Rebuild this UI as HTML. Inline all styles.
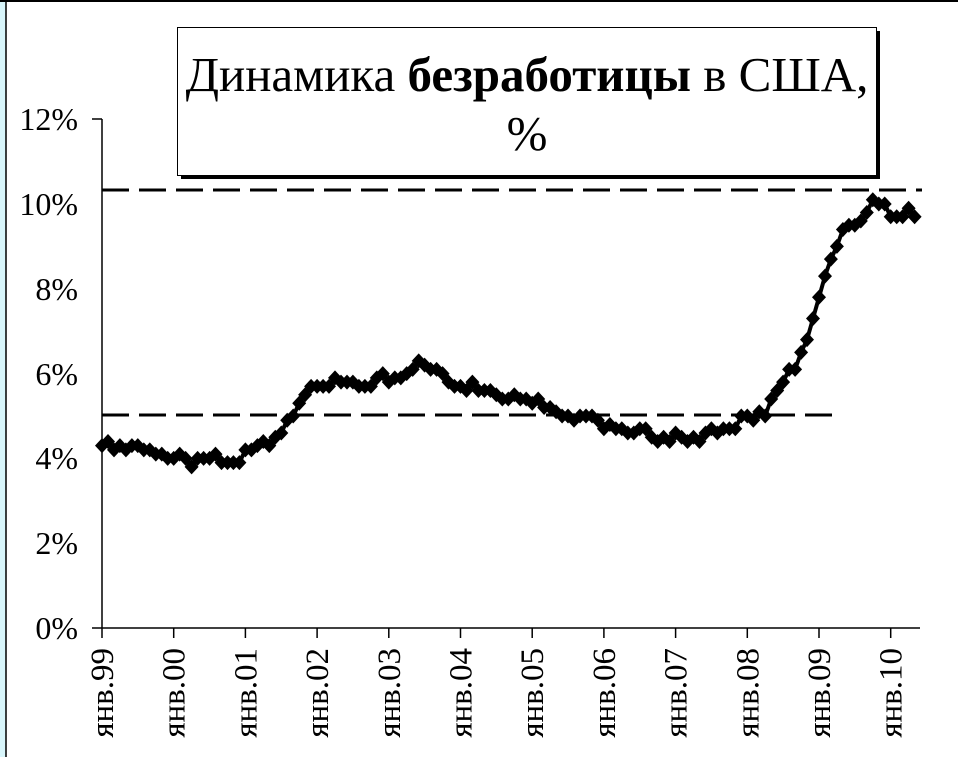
<!DOCTYPE html>
<html><head><meta charset="utf-8"><style>
body{margin:0;background:#fff;}
svg{display:block;font-family:"Liberation Serif","DejaVu Serif",serif;}
</style></head><body>
<svg id="s" width="958" height="757" xmlns="http://www.w3.org/2000/svg">
<rect x="0" y="0" width="958" height="757" fill="#fff"/>
<rect x="0" y="0" width="6" height="757" fill="#d8f6fb"/>
<line x1="6" y1="0" x2="6" y2="757" stroke="#000" stroke-width="1.5"/>
<rect x="0" y="0" width="958" height="2" fill="#000"/>
<g font-size="32" text-anchor="end">
<text x="78" y="130">12%</text>
<text x="78" y="215">10%</text>
<text x="78" y="300">8%</text>
<text x="78" y="385">6%</text>
<text x="78" y="469">4%</text>
<text x="78" y="554">2%</text>
<text x="78" y="639">0%</text>
</g>
<line x1="102" y1="119" x2="102" y2="628" stroke="#000" stroke-width="1.5"/>
<line x1="92" y1="119" x2="102" y2="119" stroke="#000" stroke-width="1.5"/>
<line x1="92" y1="628" x2="920" y2="628" stroke="#000" stroke-width="1.5"/>
<g id="xt"></g>
<line x1="102" y1="190" x2="922" y2="190" stroke="#000" stroke-width="3" stroke-dasharray="27,10"/>
<line x1="102" y1="415" x2="842" y2="415" stroke="#000" stroke-width="3" stroke-dasharray="27,10"/>
<rect x="181" y="31" width="699" height="148" fill="#000"/>
<rect x="177.5" y="27.5" width="699" height="148" fill="#fff" stroke="#000" stroke-width="1"/>
<text x="527" y="91" font-size="49" text-anchor="middle">Динамика <tspan font-weight="bold">безработицы</tspan> в США,</text>
<text x="527" y="150" font-size="49" text-anchor="middle">%</text>
<g id="d"></g>
</svg>
<script>
var v=[4.3,4.4,4.2,4.3,4.2,4.3,4.3,4.2,4.2,4.1,4.1,4.0,
4.0,4.1,4.0,3.8,4.0,4.0,4.0,4.1,3.9,3.9,3.9,3.9,
4.2,4.2,4.3,4.4,4.3,4.5,4.6,4.9,5.0,5.3,5.5,5.7,
5.7,5.7,5.7,5.9,5.8,5.8,5.8,5.7,5.7,5.7,5.9,6.0,
5.8,5.9,5.9,6.0,6.1,6.3,6.2,6.1,6.1,6.0,5.8,5.7,
5.7,5.6,5.8,5.6,5.6,5.6,5.5,5.4,5.4,5.5,5.4,5.4,
5.3,5.4,5.2,5.2,5.1,5.0,5.0,4.9,5.0,5.0,5.0,4.9,
4.7,4.8,4.7,4.7,4.6,4.6,4.7,4.7,4.5,4.4,4.5,4.4,
4.6,4.5,4.4,4.5,4.4,4.6,4.7,4.6,4.7,4.7,4.7,5.0,
5.0,4.9,5.1,5.0,5.4,5.6,5.8,6.1,6.1,6.5,6.8,7.3,
7.8,8.3,8.7,9.0,9.4,9.5,9.5,9.6,9.8,10.1,10.0,10.0,
9.7,9.7,9.7,9.9,9.7];
var d=document.getElementById('d'),pts=[],h='';
for(var i=0;i<v.length;i++){var x=102+i*5.975,y=628-v[i]*42.4;pts.push(x.toFixed(1)+','+y.toFixed(1));
h+='<path d="M'+x.toFixed(1)+' '+(y-7.5)+'l7 7.5l-7 7.5l-7 -7.5z" fill="#000"/>';}
d.innerHTML='<polyline points="'+pts.join(' ')+'" fill="none" stroke="#000" stroke-width="4"/>'+h;
var xt=document.getElementById('xt'),s='',lab=['99','00','01','02','03','04','05','06','07','08','09','10'];
for(var k=0;k<12;k++){var x=102+k*71.7;s+='<line x1="'+x+'" y1="628" x2="'+x+'" y2="638" stroke="#000" stroke-width="1.5"/>';
s+='<text transform="translate('+(x+11)+',648) rotate(-90)" font-size="33" text-anchor="end">янв.'+lab[k]+'</text>';}
xt.innerHTML=s;
</script>
</body></html>
